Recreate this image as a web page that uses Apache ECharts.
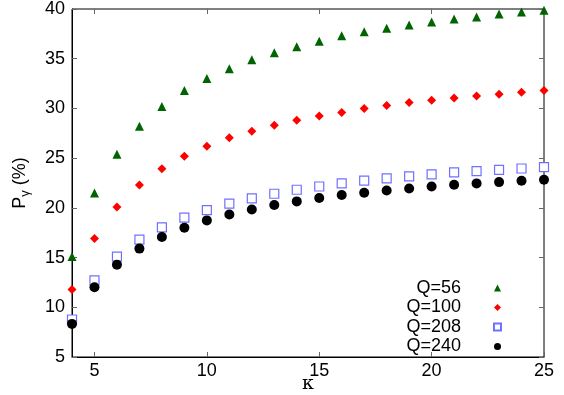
<!DOCTYPE html>
<html>
<head>
<meta charset="utf-8">
<script src="https://cdn.jsdelivr.net/npm/echarts@6/dist/echarts.min.js"></script>
<style>
  html, body { margin: 0; padding: 0; background: #fff; }
  #chart { width: 564px; height: 395px; }
</style>
</head>
<body>
<div id="chart"></div>
<script>
// kappa values shared by every series
const kappa = [4, 5, 6, 7, 8, 9, 10, 11, 12, 13, 14, 15, 16, 17, 18, 19, 20, 21, 22, 23, 24, 25]

const q56 = [15.1, 21.5, 25.4, 28.2, 30.2, 31.8, 33.0, 34.0, 34.9, 35.6, 36.2,
  36.75, 37.3, 37.7, 38.06, 38.4, 38.7, 39.0, 39.2, 39.5, 39.7, 39.87]
const q100 = [11.8, 16.93, 20.08, 22.3, 23.93, 25.2, 26.2, 27.04, 27.7, 28.3, 28.8,
  29.25, 29.6, 30.0, 30.3, 30.6, 30.83, 31.06, 31.26, 31.43, 31.63, 31.8]
const q208 = [8.77, 12.71, 15.1, 16.8, 18.04, 19.01, 19.78, 20.42, 20.95, 21.42, 21.82,
  22.15, 22.46, 22.73, 22.96, 23.16, 23.36, 23.56, 23.7, 23.83, 23.96, 24.1]
const q240 = [8.33, 12.01, 14.29, 15.9, 17.07, 18.0, 18.74, 19.34, 19.84, 20.28, 20.65,
  20.99, 21.29, 21.52, 21.75, 21.95, 22.15, 22.32, 22.46, 22.59, 22.73, 22.83]

const xTicks = [5, 10, 15, 20, 25]

const font = 'Liberation Sans'

function pairs(ys) {
  return kappa.map((k, i) => [k, ys[i]])
}

const chart = echarts.init(document.getElementById('chart'))

const tickStyle = { show: true, inside: true, length: 5, lineStyle: { color: '#666', width: 1 } }

chart.setOption({
  animation: false,
  textStyle: { fontFamily: font },
  grid: {
    left: 72,
    right: 20,
    top: 9,
    bottom: 38,
    outerBoundsMode: 'none',
    containLabel: false,
    show: true,
    borderColor: '#000',
    borderWidth: 1
  },
  legend: {
    orient: 'vertical',
    right: 57,
    top: 274,
    align: 'right',
    itemGap: 1.5,
    itemWidth: 7,
    itemHeight: 7,
    textStyle: { fontFamily: font, fontSize: 18, color: '#000', padding: [0, 28, 0, 0] },
    data: ['Q=56', 'Q=100', 'Q=208', 'Q=240']
  },
  xAxis: [{
    type: 'value',
    min: 4,
    max: 25,
    name: 'κ',
    nameLocation: 'middle',
    nameGap: 18,
    nameMoveOverlap: false,
    nameTextStyle: { fontFamily: 'DejaVu Serif', fontSize: 19, color: '#000' },
    axisLine: { show: true, lineStyle: { color: '#000' } },
    axisTick: Object.assign({ customValues: xTicks }, tickStyle),
    axisLabel: { customValues: xTicks, color: '#000', fontSize: 18, margin: 5, fontFamily: font },
    splitLine: { show: false }
  }, {
    type: 'value',
    position: 'top',
    min: 4,
    max: 25,
    axisLine: { show: false },
    axisTick: Object.assign({ customValues: xTicks }, tickStyle),
    axisLabel: { show: false },
    splitLine: { show: false }
  }],
  yAxis: [{
    type: 'value',
    min: 5,
    max: 40,
    interval: 5,
    name: '{p|P}{s|γ}{p| (%)}',
    nameLocation: 'middle',
    nameGap: 40,
    nameMoveOverlap: false,
    nameTextStyle: {
      rich: {
        p: { fontFamily: font, fontSize: 18, color: '#000' },
        s: { fontFamily: font, fontSize: 13, color: '#000', padding: [10, 0, 0, 0] }
      }
    },
    axisLine: { show: true, lineStyle: { color: '#000' } },
    axisTick: tickStyle,
    axisLabel: { color: '#000', fontSize: 18, margin: 7, fontFamily: font },
    splitLine: { show: false }
  }, {
    type: 'value',
    position: 'right',
    min: 5,
    max: 40,
    interval: 5,
    axisLine: { show: false },
    axisTick: tickStyle,
    axisLabel: { show: false },
    splitLine: { show: false }
  }],
  series: [{
    name: 'Q=56',
    type: 'scatter',
    symbol: 'triangle',
    symbolSize: 9,
    itemStyle: { color: '#006400', opacity: 1 },
    data: pairs(q56)
  }, {
    name: 'Q=100',
    type: 'scatter',
    symbol: 'diamond',
    symbolSize: 9,
    itemStyle: { color: '#ff0000', opacity: 1 },
    data: pairs(q100)
  }, {
    name: 'Q=208',
    type: 'scatter',
    symbol: 'rect',
    symbolSize: 9,
    itemStyle: { color: '#fff', borderColor: '#7070ff', borderWidth: 1.2, opacity: 1 },
    data: pairs(q208)
  }, {
    name: 'Q=240',
    type: 'scatter',
    symbol: 'circle',
    symbolSize: 10,
    itemStyle: { color: '#000', opacity: 1 },
    data: pairs(q240)
  }]
})
</script>
</body>
</html>
